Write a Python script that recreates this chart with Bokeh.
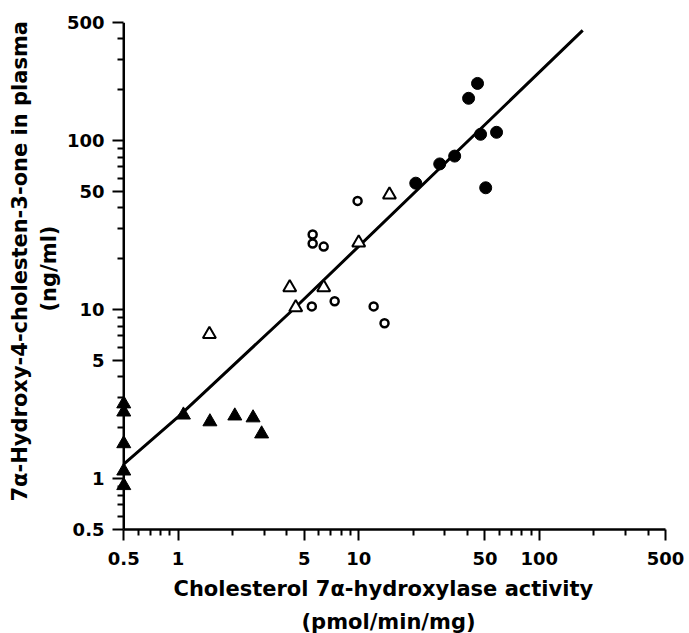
from bokeh.plotting import figure
from bokeh.models import FixedTicker, Title, Span
from bokeh.embed import file_html
from bokeh.resources import INLINE

# ---- data ----
filled_tri_x = [0.5, 0.5, 0.5, 0.5, 0.5, 1.07, 1.5, 2.06, 2.6, 2.9]
filled_tri_y = [2.77, 2.48, 1.61, 1.11, 0.91, 2.38, 2.17, 2.35, 2.29, 1.84]

open_tri_x = [1.49, 4.15, 4.48, 6.4, 10.0, 14.8]
open_tri_y = [7.15, 13.5, 10.3, 13.5, 24.9, 47.8]

open_circ_x = [5.56, 5.56, 6.4, 5.5, 7.36, 12.1, 13.9, 9.86]
open_circ_y = [27.8, 24.6, 23.6, 10.45, 11.2, 10.45, 8.3, 44.0]

filled_circ_x = [45.5, 40.6, 47.3, 58.0, 34.0, 28.1, 20.7, 50.5]
filled_circ_y = [218, 178, 109, 112, 81, 72.8, 56, 52.6]

reg_x = [0.5, 1.0, 4.5, 174]
reg_y = [1.22, 2.32, 10.4, 449]

x_min = 0.5   # where the y axis stands
major_ticks = [0.5, 1, 5, 10, 50, 100, 500]
tick_labels = ["0.5", "1", "5", "10", "50", "100", "500"]
minor_ticks = [0.6, 0.7, 0.8, 0.9, 2, 3, 4, 6, 7, 8, 9,
               20, 30, 40, 60, 70, 80, 90, 200, 300, 400]

x_title = "Cholesterol 7α-hydroxylase activity"
x_unit = "(pmol/min/mg)"
y_title = "7α-Hydroxy-4-cholesten-3-one in plasma"
y_unit = "(ng/ml)"

FONT = "DejaVu Sans"

# x range starts a little below 0.5 so that markers sitting on the y axis
# (x = 0.5) are not clipped; the axis line itself is drawn at x = 0.5.
p = figure(width=685, height=633, x_axis_type="log", y_axis_type="log",
           x_range=(0.45, 500), y_range=(0.5, 500),
           output_backend="svg", toolbar_location=None,
           min_border_left=115, min_border_right=20,
           min_border_top=22, min_border_bottom=102)
p.outline_line_color = None
p.grid.visible = False
p.background_fill_color = "white"

for ax in (p.xaxis[0], p.yaxis[0]):
    ax.ticker = FixedTicker(ticks=major_ticks, minor_ticks=minor_ticks)
    ax.major_label_overrides = {t: l for t, l in zip(major_ticks, tick_labels)}
    ax.axis_line_width = 2.5
    ax.axis_line_color = "black"
    ax.major_tick_line_width = 2
    ax.minor_tick_line_width = 2
    ax.major_tick_line_color = "black"
    ax.minor_tick_line_color = "black"
    ax.major_label_text_font = FONT
    ax.major_label_text_font_style = "bold"
    ax.major_label_text_font_size = "18px"
    ax.major_label_text_color = "black"

xa = p.xaxis[0]
xa.major_tick_in = 0
xa.minor_tick_in = 0
xa.major_tick_out = 11
xa.minor_tick_out = 6
xa.major_label_standoff = 11
xa.bounds = (x_min, 500)

ya = p.yaxis[0]
ya.axis_line_color = None
ya.major_tick_out = 3
ya.major_tick_in = 8
ya.minor_tick_out = -2
ya.minor_tick_in = 8
ya.major_label_standoff = 8

p.add_layout(Span(location=x_min, dimension="height", line_color="black",
                  line_width=2.5))

p.line(reg_x, reg_y, line_color="black", line_width=3)

p.scatter(filled_tri_x, filled_tri_y, marker="triangle", size=14,
          fill_color="black", line_color="black", line_width=1)
p.scatter(open_tri_x, open_tri_y, marker="triangle", size=13,
          fill_color="white", line_color="black", line_width=2)
p.scatter(open_circ_x, open_circ_y, marker="circle", size=8,
          fill_color="white", line_color="black", line_width=2.5)
p.scatter(filled_circ_x, filled_circ_y, marker="circle", size=12,
          fill_color="black", line_color="black", line_width=1)

def add_title(txt, side, offset, standoff):
    p.add_layout(Title(text=txt, align="left", offset=offset,
                       standoff=standoff, text_font=FONT,
                       text_font_style="bold", text_font_size="21px",
                       text_color="black"), side)

add_title(x_title, "below", 58, 14)
add_title(x_unit, "below", 186, 0)
add_title(y_unit, "left", 218, 6)
add_title(y_title, "left", 28, 0)

open("out.html", "w").write(file_html(p, INLINE))
